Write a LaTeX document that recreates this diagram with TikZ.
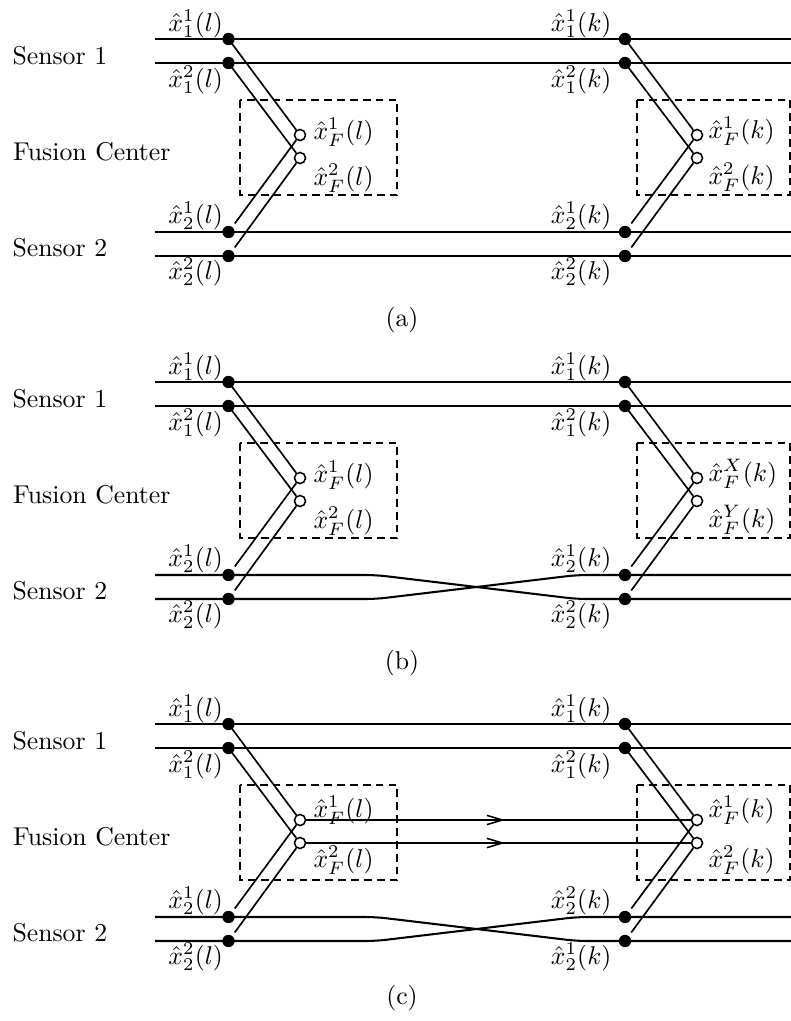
\documentclass[tikz,border=0pt]{standalone}
\usetikzlibrary{arrows.meta,decorations.markings}
\tikzset{
  hline/.style={line width=0.8pt},
  dline/.style={line width=0.65pt},
  fbox/.style={line width=0.6pt, dash pattern=on 3pt off 2pt},
  sdot/.style={circle, fill=black, inner sep=0pt, minimum size=4.8pt},
  odot/.style={circle, draw, fill=white, line width=0.6pt, inner sep=0pt, minimum size=4.3pt},
  lab/.style={inner sep=0pt},
  midarrow/.style={postaction={decorate}, decoration={markings, mark=at position 0.517 with {\arrow{Straight Barb[length=6pt,width=3.6pt,line width=0.6pt]}}}},
}
\newcommand\Skeleton[1]{%
  \coordinate (L1#1) at (155,39);  \coordinate (R1#1) at (791,39);
  \coordinate (L2#1) at (155,63);  \coordinate (R2#1) at (791,63);
  \coordinate (L3#1) at (155,232); \coordinate (R3#1) at (791,232);
  \coordinate (L4#1) at (155,256); \coordinate (R4#1) at (791,256);
  \node[sdot] (a1#1) at (228.5,39) {};
  \node[sdot] (a2#1) at (228.5,63) {};
  \node[sdot] (a3#1) at (228.5,232) {};
  \node[sdot] (a4#1) at (228.5,256) {};
  \node[sdot] (b1#1) at (625,39) {};
  \node[sdot] (b2#1) at (625,63) {};
  \node[sdot] (b3#1) at (625,232) {};
  \node[sdot] (b4#1) at (625,256) {};
  \node[odot] (f1#1) at (300,135) {};
  \node[odot] (f2#1) at (300,158) {};
  \node[odot] (g1#1) at (697,135) {};
  \node[odot] (g2#1) at (697,158) {};
  \draw[hline] (L1#1) -- (a1#1.center) -- (b1#1.center) -- (R1#1);
  \draw[hline] (L2#1) -- (a2#1.center) -- (b2#1.center) -- (R2#1);
  \draw[dline] (a1#1.center) -- (f1#1);
  \draw[dline] (a2#1.center) -- (f2#1);
  \draw[dline, shorten <=1.5pt] (a3#1) -- (f1#1);
  \draw[dline, shorten <=1.5pt] (a4#1) -- (f2#1);
  \draw[dline] (b1#1.center) -- (g1#1);
  \draw[dline] (b2#1.center) -- (g2#1);
  \draw[dline, shorten <=1.5pt] (b3#1) -- (g1#1);
  \draw[dline, shorten <=1.5pt] (b4#1) -- (g2#1);
  \coordinate (bx1#1) at (240,100); \coordinate (bx2#1) at (397,195);
  \coordinate (by1#1) at (637,100); \coordinate (by2#1) at (790,195);
  \draw[fbox] (bx1#1) rectangle (bx2#1);
  \draw[fbox] (by1#1) rectangle (by2#1);
  \node[lab, anchor=base west] (s1#1) at (12,64) {Sensor 1};
  \node[lab, anchor=base west] (fc#1) at (12.7,160) {Fusion Center};
  \node[lab, anchor=base west] (s2#1) at (12,256) {Sensor 2};
  \node[lab, anchor=base east] (t1#1) at (223.5,31) {$\hat{x}_1^1(l)$};
  \node[lab, anchor=base east] (t2#1) at (223.5,87) {$\hat{x}_1^2(l)$};
  \node[lab, anchor=base east] (t3#1) at (223.5,223) {$\hat{x}_2^1(l)$};
  \node[lab, anchor=base east] (t4#1) at (223.5,279) {$\hat{x}_2^2(l)$};
  \node[lab, anchor=base east] (u1#1) at (612,31) {$\hat{x}_1^1(k)$};
  \node[lab, anchor=base east] (u2#1) at (612,87) {$\hat{x}_1^2(k)$};
}
\newcommand\Crossing[1]{%
  \coordinate (p3#1) at (376,232); \coordinate (q3#1) at (577,232);
  \coordinate (p4#1) at (376,256); \coordinate (q4#1) at (577,256);
  \draw[hline, rounded corners=4pt] (L3#1) -- (a3#1.center) -- (p3#1) -- (q4#1) -- (b4#1.center) -- (R4#1);
  \draw[hline, rounded corners=4pt] (L4#1) -- (a4#1.center) -- (p4#1) -- (q3#1) -- (b3#1.center) -- (R3#1);
}
\begin{document}
\begin{tikzpicture}[x=0.3883pt,y=-0.3883pt]
\useasboundingbox (0,0) rectangle (791,1021);
% ---------- (a)
\begin{scope}
  \Skeleton{A}
  \draw[hline] (L3A) -- (a3A.center) -- (b3A.center) -- (R3A);
  \draw[hline] (L4A) -- (a4A.center) -- (b4A.center) -- (R4A);
  \node[lab, anchor=base east] (u3A) at (612,223) {$\hat{x}_2^1(k)$};
  \node[lab, anchor=base east] (u4A) at (612,279) {$\hat{x}_2^2(k)$};
  \node[lab, anchor=base west] (v1A) at (313,139) {$\hat{x}_F^1(l)$};
  \node[lab, anchor=base west] (v2A) at (313,185) {$\hat{x}_F^2(l)$};
  \node[lab, anchor=base west] (w1A) at (708,138) {$\hat{x}_F^1(k)$};
  \node[lab, anchor=base west] (w2A) at (708,184) {$\hat{x}_F^2(k)$};
  \node[lab, anchor=base] (capA) at (402,326) {(a)};
\end{scope}
% ---------- (b)
\begin{scope}[shift={(0,343)}]
  \Skeleton{B}
  \Crossing{B}
  \node[lab, anchor=base east] (u3B) at (612,223) {$\hat{x}_2^1(k)$};
  \node[lab, anchor=base east] (u4B) at (612,279) {$\hat{x}_2^2(k)$};
  \node[lab, anchor=base west] (v1B) at (313,139) {$\hat{x}_F^1(l)$};
  \node[lab, anchor=base west] (v2B) at (313,185) {$\hat{x}_F^2(l)$};
  \node[lab, anchor=base west] (w1B) at (708,138) {$\hat{x}_F^X(k)$};
  \node[lab, anchor=base west] (w2B) at (708,184) {$\hat{x}_F^Y(k)$};
  \node[lab, anchor=base] (capB) at (402,326) {(b)};
\end{scope}
% ---------- (c)
\begin{scope}[shift={(0,685)}]
  \Skeleton{C}
  \Crossing{C}
  \draw[hline, midarrow] (f1C) -- (g1C);
  \draw[hline, midarrow] (f2C) -- (g2C);
  \node[lab, anchor=base east] (u3C) at (612,223) {$\hat{x}_2^2(k)$};
  \node[lab, anchor=base east] (u4C) at (612,279) {$\hat{x}_2^1(k)$};
  \node[lab, anchor=base west] (v1C) at (313,132) {$\hat{x}_F^1(l)$};
  \node[lab, anchor=base west] (v2C) at (313,182) {$\hat{x}_F^2(l)$};
  \node[lab, anchor=base west] (w1C) at (708,132) {$\hat{x}_F^1(k)$};
  \node[lab, anchor=base west] (w2C) at (708,182) {$\hat{x}_F^2(k)$};
  \node[lab, anchor=base] (capC) at (402,319) {(c)};
\end{scope}
\end{tikzpicture}
\end{document}
